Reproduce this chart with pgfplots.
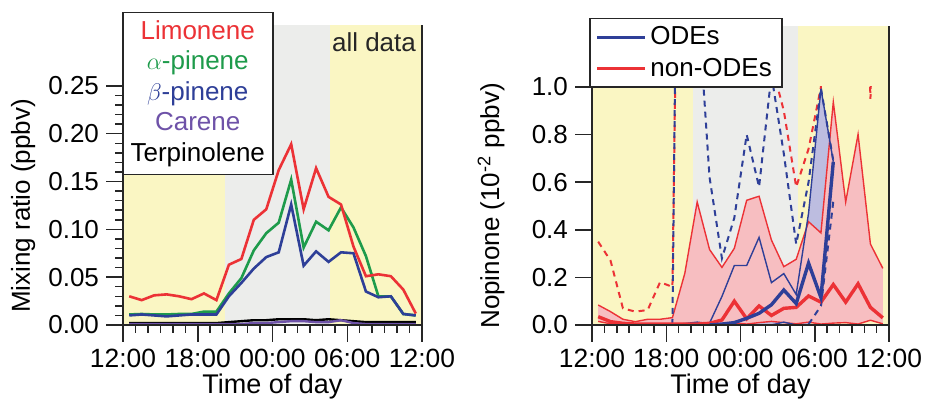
\documentclass[border=0pt]{standalone}
\usepackage{fontspec}
\setmainfont{Liberation Sans}
\usepackage{pgfplots}
\usepackage{pgfplotstable}
\pgfplotsset{compat=1.18}

\definecolor{ybg}{HTML}{FAF6C3}
\definecolor{gbg}{HTML}{ECEDEB}
\definecolor{cRed}{HTML}{EC3236}
\definecolor{cGreen}{HTML}{1E9B4B}
\definecolor{cBlue}{HTML}{2E3F98}
\definecolor{cPurple}{HTML}{6E52A8}
\definecolor{cPink}{HTML}{F7BEC1}
\definecolor{cLav}{HTML}{BDBDE0}

% monoterpenes, hourly means (hours after 12:00)
\pgfplotstableread{
h    lim    apin    bpin    car    ter
0.5  0.030  0.011   0.010   0.001  0.002
1.5  0.026  0.0115  0.011   0.001  0.002
2.5  0.031  0.011   0.010   0.001  0.002
3.5  0.032  0.011   0.009   0.001  0.002
4.5  0.030  0.0115  0.010   0.001  0.002
5.5  0.027  0.0115  0.011   0.001  0.002
6.5  0.033  0.014   0.011   0.001  0.002
7.5  0.026  0.014   0.011   0.001  0.002
8.5  0.063  0.033   0.030   0.001  0.003
9.5  0.069  0.049   0.044   0.001  0.004
10.5 0.110  0.078   0.059   0.002  0.005
11.5 0.121  0.096   0.071   0.002  0.005
12.5 0.162  0.107   0.076   0.003  0.006
13.5 0.189  0.152   0.126   0.004  0.006
14.5 0.121  0.081   0.062   0.004  0.006
15.5 0.164  0.108   0.077   0.003  0.005
16.5 0.134  0.099   0.066   0.003  0.006
17.5 0.126  0.123   0.076   0.005  0.005
18.5 0.082  0.102   0.075   0.002  0.004
19.5 0.051  0.072   0.035   0.001  0.003
20.5 0.053  0.030   0.029   0.001  0.003
21.5 0.051  0.030   0.030   0.001  0.003
22.5 0.037  0.0115  0.0115  0.001  0.003
23.5 0.012  0.010   0.010   0.001  0.003
}\terpenes

% nopinone, non-ODE days: upper/median/lower + dashed upper
\pgfplotstableread{
h    up     med    low    dash
0.5  0.084  0.035  0.015  0.35
1.5  0.056  0.014  0.005  0.27
2.5  0.024  0.007  0.002  0.07
3.5  0.014  0.004  0.002  0.056
4.5  0.024  0.004  0.002  0.063
5.5  0.024  0.004  0.002  0.18
6.5  0.031  0.004  0.002  0.16
7.5  0.217  0.004  0.002  4
8.5  0.517  0.004  0.002  3
9.5  0.317  0.007  0.002  3
10.5 0.242  0.021  0.004  3
11.5 0.322  0.100  0.008  3
12.5 0.524  0.026  0.004  3
13.5 0.541  0.080  0.010  3
14.5 0.357  0.040  0.015  1.1
15.5 0.245  0.070  0.010  0.90
16.5 0.276  0.074  0.005  0.58
17.5 0.434  0.122  0.012  0.74
18.5 0.387  0.096  0.004  1.0
19.5 0.937  0.170  0.008  3
20.5 0.517  0.096  0.010  3
21.5 0.801  0.173  0.004  3
22.5 0.340  0.074  0.020  0.95
23.5 0.238  0.030  0.005  3
}\nonode

% nopinone, ODE days
\pgfplotstableread{
h    up     med    low
9.5  0.008  0.000  0.006
10.5 0.120  0.004  0.000
11.5 0.250  0.010  0.000
12.5 0.250  0.028  0.000
13.5 0.368  0.049  0.000
14.5 0.178  0.085  0.000
15.5 0.216  0.147  0.012
16.5 0.128  0.090  0.000
17.5 0.470  0.260  0.003
18.5 0.993  0.115  0.080
19.5 0.686  0.686  0.520
}\odes

\pgfplotsset{
  panel/.style={
    scale only axis, anchor=south west,
    xmin=0, xmax=24, ymin=0,
    axis x line*=bottom, axis y line*=left,
    axis line style={line width=0.75pt, black!85},
    every tick/.style={line width=0.75pt, black!85},
    tick align=outside,
    major tick length=8.5pt, minor tick length=4pt,
    xtick={0,6,12,18,24},
    xticklabels={12:00,18:00,00:00,06:00,12:00},
    minor x tick num=5,
    xticklabel style={font=\fontsize{13.2}{15}\selectfont},
    yticklabel style={font=\fontsize{13}{15}\selectfont},
    /pgf/number format/assume math mode=true,
    xlabel={Time of day},
    xlabel style={font=\fontsize{13.5}{15}\selectfont, anchor=center},
    ylabel style={font=\fontsize{13}{15}\selectfont, anchor=center},
    clip mode=individual,
    axis on top,
  },
}

\begin{document}
\begin{tikzpicture}
\useasboundingbox (0pt,0pt) rectangle (463.5pt,205pt);

%--- left: monoterpenes
\begin{axis}[panel, at={(61.5pt,42.5pt)}, width=149.5pt, height=150pt, ymax=0.3137,
  ytick={0,0.05,0.10,0.15,0.20,0.25}, minor y tick num=4,
  yticklabel style={/pgf/number format/.cd, fixed, fixed zerofill, precision=2},
  ylabel={Mixing ratio (ppbv)},
  ylabel style={at={(axis description cs:-0.334,0.397)}},
  xlabel style={at={(axis description cs:0.5,-0.205)}},
]
\fill[ybg] (axis cs:0,0) rectangle (axis cs:8.2,0.3137);
\fill[gbg] (axis cs:8.2,0) rectangle (axis cs:16.65,0.3137);
\fill[ybg] (axis cs:16.65,0) rectangle (axis cs:24,0.3137);
\draw[line width=0.75pt, black!85] (axis cs:24,0) -- (axis cs:24,0.3137);

\addplot[black, line width=1.2pt] table[y=ter] {\terpenes};
\addplot[cPurple, line width=1.2pt] table[y=car] {\terpenes};
\addplot[cGreen, line width=1.3pt] table[y=apin] {\terpenes};
\addplot[cBlue, line width=1.3pt] table[y=bpin] {\terpenes};
\addplot[cRed, line width=1.3pt] table[y=lim] {\terpenes};
\end{axis}

\node[draw=black!85, line width=0.75pt, fill=white, anchor=north west,
  minimum width=75pt, minimum height=81pt, inner sep=0pt, align=center,
  font=\fontsize{13}{15.25}\selectfont] at (61pt,199pt)
  {\textcolor{cRed}{Limonene}\\
   \textcolor{cGreen}{$\alpha$-pinene}\\
   \textcolor{cBlue}{$\beta$-pinene}\\
   \textcolor{cPurple}{Carene}\\
   Terpinolene};
\node[font=\fontsize{13}{15}\selectfont, text=black!85] at (187pt,184pt) {all data};

%--- right: nopinone
\begin{axis}[panel, at={(296pt,42.5pt)}, width=148.5pt, height=119pt, ymax=1,
  ytick={0,0.2,0.4,0.6,0.8,1.0},
  yticklabel style={/pgf/number format/.cd, fixed, fixed zerofill, precision=1},
  ylabel={Nopinone (10\textsuperscript{-2} ppbv)},
  ylabel style={at={(axis description cs:-0.34,0.5)}},
  xlabel style={at={(axis description cs:0.5,-0.258)}},
  legend style={at={(rel axis cs:-0.01,1.29)}, anchor=north west,
    draw=black!85, line width=0.75pt, fill=white,
    font=\fontsize{13}{15}\selectfont, inner xsep=3pt, inner ysep=2pt,
    cells={anchor=west}, row sep=1pt},
  legend image code/.code={\draw[#1] (0pt,0pt) -- (24pt,0pt);},
]
\addlegendimage{cBlue, line width=1.3pt}
\addlegendentry{ODEs}
\addlegendimage{cRed, line width=1.3pt}
\addlegendentry{non-ODEs}

\fill[ybg] (axis cs:0,0) rectangle (axis cs:8.2,1.256);
\fill[gbg] (axis cs:8.2,0) rectangle (axis cs:16.65,1.256);
\fill[ybg] (axis cs:16.65,0) rectangle (axis cs:24,1.256);
\draw[line width=0.75pt, black!85] (axis cs:24,0) -- (axis cs:24,1.256);

% ODE band (upper, then lower reversed)
\addplot[fill=cLav, draw=none, forget plot] coordinates {
  (9.5,0.008) (10.5,0.120) (11.5,0.250) (12.5,0.250) (13.5,0.368) (14.5,0.178)
  (15.5,0.216) (16.5,0.128) (17.5,0.470) (18.5,0.993) (19.5,0.686)
  (19.5,0.520) (18.5,0.080) (17.5,0.003) (16.5,0) (15.5,0.012) (14.5,0)
  (13.5,0) (12.5,0) (11.5,0) (10.5,0) (9.5,0.006)} -- cycle;
% non-ODE band
\addplot[fill=cPink, draw=none, forget plot] coordinates {
  (0.5,0.084) (1.5,0.056) (2.5,0.024) (3.5,0.014) (4.5,0.024) (5.5,0.024)
  (6.5,0.031) (7.5,0.217) (8.5,0.517) (9.5,0.317) (10.5,0.242) (11.5,0.322)
  (12.5,0.524) (13.5,0.541) (14.5,0.357) (15.5,0.245) (16.5,0.276) (17.5,0.434)
  (18.5,0.387) (19.5,0.937) (20.5,0.517) (21.5,0.801) (22.5,0.340) (23.5,0.238)
  (23.5,0.005) (22.5,0.020) (21.5,0.004) (20.5,0.010) (19.5,0.008) (18.5,0.004)
  (17.5,0.012) (16.5,0.005) (15.5,0.010) (14.5,0.015) (13.5,0.010) (12.5,0.004)
  (11.5,0.008) (10.5,0.004) (9.5,0.002) (8.5,0.002) (7.5,0.002) (6.5,0.002)
  (5.5,0.002) (4.5,0.002) (3.5,0.002) (2.5,0.002) (1.5,0.005) (0.5,0.015)} -- cycle;

\addplot[cRed, line width=0.7pt, forget plot] table[y=up] {\nonode};
\addplot[cRed, line width=0.7pt, forget plot] table[y=low] {\nonode};
\addplot[cBlue, line width=0.7pt, forget plot] table[y=up] {\odes};
\addplot[cBlue, line width=0.7pt, forget plot] coordinates {
  (4.5,0) (5.5,0) (6.5,0.002) (7.5,0.006) (8.5,0.012) (9.5,0.006)
  (10.5,0) (11.5,0) (12.5,0) (13.5,0) (14.5,0) (15.5,0.012) (16.5,0)};

\addplot[cRed, line width=1pt, dash pattern=on 3pt off 2.5pt, forget plot] table[y=dash] {\nonode};
\addplot[cBlue, line width=1pt, dash pattern=on 3pt off 2.5pt, forget plot] coordinates {
  (6.5,0) (7.5,5) (8.5,1.4) (9.5,0.62) (10.5,0.28) (11.5,0.45) (12.5,0.80)
  (13.5,0.58) (14.5,1.05) (15.5,0.72) (16.5,0.34) (17.5,0.60) (18.5,0.995) (19.5,0.69)};
\addplot[cBlue, line width=1pt, dash pattern=on 3pt off 2.5pt, forget plot] coordinates {
  (17.5,0.003) (18.5,0.08) (19.5,0.52)};

\addplot[cRed, line width=1.7pt, forget plot] table[y=med] {\nonode};
\addplot[cBlue, line width=1.7pt, forget plot] table[y=med] {\odes};
\end{axis}
\end{tikzpicture}
\end{document}
